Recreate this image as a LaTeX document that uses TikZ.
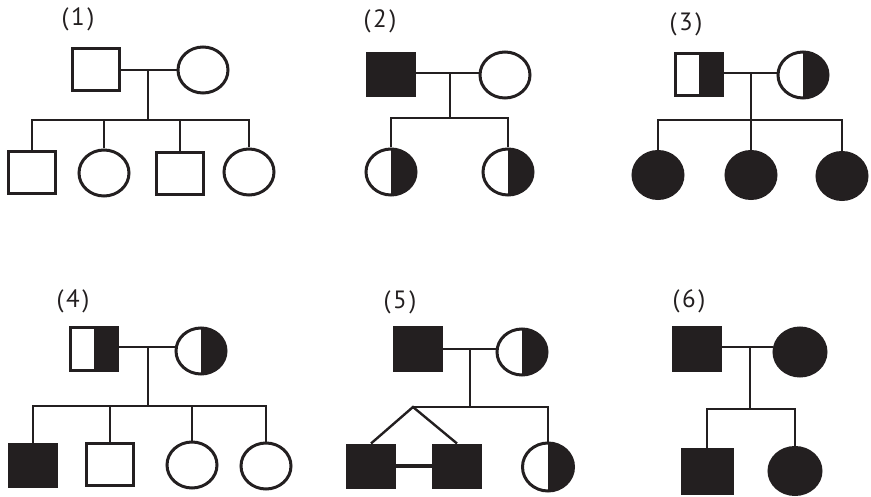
\documentclass[tikz,border=0pt]{standalone}
\usepackage{fontspec}
\setmainfont{PT Sans}
\usetikzlibrary{shapes.geometric}
\definecolor{ink}{HTML}{231F20}
\newcommand{\plab}[1]{(\kern2.5pt#1\kern2.5pt)}
\tikzset{
  sq/.style={rectangle,draw=ink,line width=3pt,minimum width=47pt,minimum height=42pt,inner sep=0pt},
  ci/.style={ellipse,draw=ink,line width=3pt,minimum width=50pt,minimum height=46pt,inner sep=0pt},
  aff/.style={fill=ink},
  half/.style={path picture={\fill[ink] (path picture bounding box.north) rectangle (path picture bounding box.south east);}},
  con/.style={draw=ink,line width=1.8pt},
  lab/.style={font=\fontsize{25}{28}\selectfont,text=ink,inner sep=0pt}
}
\begin{document}
\begin{tikzpicture}[x=1pt,y=-1pt]
\useasboundingbox (0,0) rectangle (871,497);
% ---------- (1)
\node[lab] (l1) at (78,19) {\plab{1}};
\node[sq] (f1) at (96,70) {};
\node[ci] (m1) at (203,70) {};
\node[sq] (a1) at (32,173) {};
\node[ci] (a2) at (104,173) {};
\node[sq] (a3) at (180,174) {};
\node[ci] (a4) at (249,172) {};
\coordinate (j1) at (148,70);
\coordinate (s1) at (148,120);
\draw[con] (f1.east) -- (m1.west);
\draw[con] (j1) -- (s1);
\draw[con] (a1.north) |- (s1) -| (a4.north);
\draw[con] (a2.north) -- (a2.north |- s1);
\draw[con] (a3.north) -- (a3.north |- s1);
% ---------- (2)
\node[lab] (l2) at (380,21) {\plab{2}};
\node[sq,aff] (f2) at (391,75) {};
\node[ci] (m2) at (505,75) {};
\node[ci,half] (b1) at (391,172) {};
\node[ci,half] (b2) at (508,172) {};
\coordinate (j2) at (450,73);
\coordinate (s2) at (450,118);
\draw[con] (f2.east |- j2) -- (m2.west |- j2);
\draw[con] (j2) -- (s2);
\draw[con] (b1.north) |- (s2) -| (b2.north);
% ---------- (3)
\node[lab] (l3) at (686,24) {\plab{3}};
\node[sq,half] (f3) at (699,75) {};
\node[ci,half] (m3) at (803,75) {};
\node[ci,aff,minimum height=47pt] (c1) at (658,175) {};
\node[ci,aff,minimum height=47pt] (c2) at (751,175) {};
\node[ci,aff,minimum height=47pt] (c3) at (842,176) {};
\coordinate (j3) at (751,73);
\coordinate (s3) at (751,120);
\draw[con] (f3.east |- j3) -- (m3.west |- j3);
\draw[con] (j3) -- (s3);
\draw[con] (c1.north) |- (s3) -| (c3.north);
\draw[con] (c2.north) -- (s3);
% ---------- (4)
\node[lab] (l4) at (73,301) {\plab{4}};
\node[sq,half] (f4) at (94,349) {};
\node[ci,half] (m4) at (201,351) {};
\node[sq,aff] (d1) at (33,465) {};
\node[sq] (d2) at (110,464) {};
\node[ci] (d3) at (192,465) {};
\node[ci] (d4) at (266,466) {};
\coordinate (j4) at (148,347);
\coordinate (s4) at (148,406);
\draw[con] (f4.east |- j4) -- (m4.west |- j4);
\draw[con] (j4) -- (s4);
\draw[con] (d1.north) |- (s4) -| (d4.north);
\draw[con] (d2.north) -- (d2.north |- s4);
\draw[con] (d3.north) -- (d3.north |- s4);
% ---------- (5)
\node[lab] (l5) at (400,302) {\plab{5}};
\node[sq,aff] (f5) at (418,349) {};
\node[ci,half] (m5) at (522,352) {};
\node[sq,aff] (t1) at (371,466) {};
\node[sq,aff] (t2) at (457,466) {};
\node[ci,half,minimum width=51pt,minimum height=48pt] (e3) at (548,467) {};
\coordinate (j5) at (470,349);
\coordinate (s5) at (470,407);
\coordinate (tw) at (413,407);
\draw[con] (f5.east |- j5) -- (m5.west |- j5);
\draw[con] (j5) -- (s5);
\draw[con] (tw) -- (s5) -| (e3.north);
\draw[con,line width=2.4pt,line join=miter] (t1.north) -- (tw) -- (t2.north);
\draw[draw=ink,line width=4pt] (t1.east) -- (t2.west);
% ---------- (6)
\node[lab] (l6) at (689,301) {\plab{6}};
\node[sq,aff] (f6) at (697,349) {};
\node[ci,aff,minimum width=52pt,minimum height=48pt] (m6) at (800,352) {};
\node[sq,aff,minimum width=50pt,minimum height=44pt] (g1) at (707,471) {};
\node[ci,aff,minimum width=52pt,minimum height=47pt] (g2) at (795,471) {};
\coordinate (j6) at (750,347);
\coordinate (s6) at (750,409);
\draw[con] (f6.east |- j6) -- (m6.west |- j6);
\draw[con] (j6) -- (s6);
\draw[con] (g1.north) |- (s6) -| (g2.north);
\end{tikzpicture}
\end{document}
